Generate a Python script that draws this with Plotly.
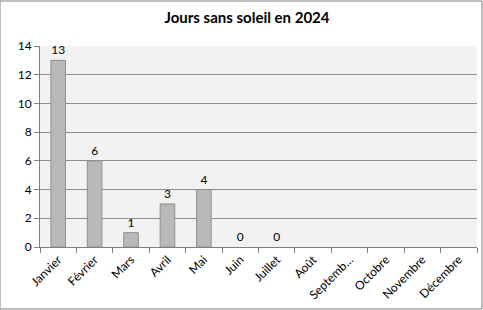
import plotly.graph_objects as go

mois = ["Janvier", "Février", "Mars", "Avril", "Mai", "Juin", "Juillet",
        "Août", "Septemb…", "Octobre", "Novembre", "Décembre"]
jours = [13, 6, 1, 3, 4, 0, 0, None, None, None, None, None]
etiquettes = ["" if v is None else str(v) for v in jours]
bordures = [1 if v else 0 for v in jours]

fig = go.Figure(go.Bar(
    x=mois, y=jours, text=etiquettes, textposition="outside",
    textfont=dict(family="Lato, Liberation Sans, sans-serif", size=12, color="black"),
    cliponaxis=False,
    marker=dict(color="#b9b9b9", line=dict(color="#8f8f8f", width=bordures)),
))

fig.update_layout(
    width=483, height=310,
    margin=dict(l=40, r=6, t=46, b=63),
    paper_bgcolor="white", plot_bgcolor="#f2f2f2",
    bargap=0.6, showlegend=False,
    font=dict(family="Lato, Liberation Sans, sans-serif", size=12, color="black"),
    title=dict(text="<b>Jours sans soleil en 2024</b>", x=247/483, xanchor="center",
               y=1 - 18/310, yanchor="middle", xref="container", yref="container",
               font=dict(size=15)),
    xaxis=dict(tickangle=-45, tickson="boundaries", ticks="outside", ticklen=5,
               tickcolor="#808080", showline=True, linecolor="#808080",
               showgrid=False, tickfont=dict(size=12)),
    yaxis=dict(range=[0, 14], dtick=2, ticks="outside", ticklen=5, tickcolor="#808080",
               showline=True, linecolor="#808080", gridcolor="#8c8c8c",
               zeroline=False, tickfont=dict(size=12)),
)
fig.add_shape(type="rect", xref="paper", yref="paper", x0=-40/437, x1=1+5/437,
              y0=-62/201, y1=1+45/201, line=dict(color="#7f7f7f", width=1))
fig.write_html("out.html")
